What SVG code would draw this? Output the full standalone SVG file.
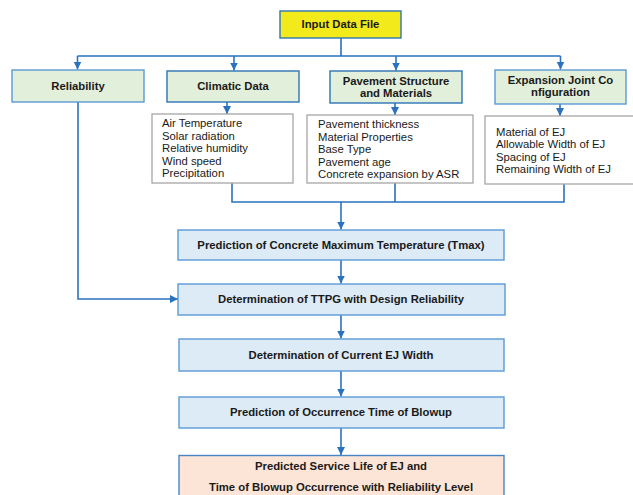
<svg xmlns="http://www.w3.org/2000/svg" width="633" height="495" viewBox="0 0 633 495">
  <style>
    .bg { fill: #ffffff; }
    .head { fill: #e2efda; stroke: #5b9bd5; stroke-width: 1.4; }
    .head-dk { fill: #e2efda; stroke: #2e75b6; stroke-width: 1.4; }
    .input { fill: #f2ea1a; stroke: #2e75b6; stroke-width: 1.4; }
    .list { fill: #ffffff; stroke: #a6a6a6; stroke-width: 1.3; }
    .step { fill: #ddebf7; stroke: #5b9bd5; stroke-width: 1.4; }
    .result { fill: #fce4d6; stroke: #4a86c5; stroke-width: 1.4; }
    .b { font-family: "Liberation Sans", Arial, sans-serif; font-size: 11.3px; font-weight: bold; fill: #1a1a1a; text-anchor: middle; }
    .t { font-family: "Liberation Sans", Arial, sans-serif; font-size: 11.3px; fill: #1a1a1a; }
    .conn { fill: none; stroke: #2a72bd; stroke-width: 1.6; }
  </style>
  <defs>
    <marker id="arrow" markerUnits="userSpaceOnUse" markerWidth="10" markerHeight="10" refX="8" refY="5" orient="auto">
      <path d="M0,1 L8,5 L0,9 z" fill="#2a72bd"/>
    </marker>
  </defs>

  <rect class="bg" x="0" y="0" width="633" height="495"/>

  <!-- connectors -->
  <g id="connectors">
    <path class="conn" d="M341,38 V56 M77.5,56 H560.5"/>
    <path class="conn" d="M77.5,56 V69.5" marker-end="url(#arrow)"/>
    <path class="conn" d="M234,56 V70.5" marker-end="url(#arrow)"/>
    <path class="conn" d="M396,56 V70.5" marker-end="url(#arrow)"/>
    <path class="conn" d="M560.5,56 V69.5" marker-end="url(#arrow)"/>
    <path class="conn" d="M78,102 V299 H178" marker-end="url(#arrow)"/>
    <path class="conn" d="M227,102 V114" marker-end="url(#arrow)"/>
    <path class="conn" d="M395,103 V115" marker-end="url(#arrow)"/>
    <path class="conn" d="M560,104 V116" marker-end="url(#arrow)"/>
    <path class="conn" d="M232,183 V202 H564 V184 M395,183 V202"/>
    <path class="conn" d="M341,202 V229.5" marker-end="url(#arrow)"/>
    <path class="conn" d="M341,260 V283.5" marker-end="url(#arrow)"/>
    <path class="conn" d="M341,315 V338.5" marker-end="url(#arrow)"/>
    <path class="conn" d="M341,371 V396.5" marker-end="url(#arrow)"/>
    <path class="conn" d="M341,428 V455" marker-end="url(#arrow)"/>
  </g>

  <g id="input">
    <rect class="input" x="280" y="11" width="121" height="27"/>
    <text class="b" x="340.5" y="28">Input Data File</text>
  </g>

  <g id="reliability">
    <rect class="head" x="12" y="70" width="132" height="32"/>
    <text class="b" x="78" y="90">Reliability</text>
  </g>

  <g id="climatic">
    <rect class="head-dk" x="167" y="71" width="132" height="31"/>
    <text class="b" x="233" y="90">Climatic Data</text>
  </g>

  <g id="pavement">
    <rect class="head-dk" x="330" y="71" width="132" height="32"/>
    <text class="b" x="396" y="85">Pavement Structure</text>
    <text class="b" x="396" y="97">and Materials</text>
  </g>

  <g id="expansion">
    <rect class="head" x="495" y="70" width="131" height="34"/>
    <text class="b" x="560.5" y="84">Expansion Joint Co</text>
    <text class="b" x="560.5" y="96">nfiguration</text>
  </g>

  <g id="climatic-list">
    <rect class="list" x="152" y="114" width="141" height="69"/>
    <text class="t" x="162" y="127">Air Temperature</text>
    <text class="t" x="162" y="139.5">Solar radiation</text>
    <text class="t" x="162" y="152">Relative humidity</text>
    <text class="t" x="162" y="164.5">Wind speed</text>
    <text class="t" x="162" y="177">Precipitation</text>
  </g>

  <g id="pavement-list">
    <rect class="list" x="307" y="115" width="166" height="68"/>
    <text class="t" x="318" y="128">Pavement thickness</text>
    <text class="t" x="318" y="140.5">Material Properties</text>
    <text class="t" x="318" y="153">Base Type</text>
    <text class="t" x="318" y="165.5">Pavement age</text>
    <text class="t" x="318" y="178">Concrete expansion by ASR</text>
  </g>

  <g id="expansion-list">
    <rect class="list" x="485" y="116" width="152" height="68"/>
    <text class="t" x="496" y="136">Material of EJ</text>
    <text class="t" x="496" y="148.3">Allowable Width of EJ</text>
    <text class="t" x="496" y="160.6">Spacing of EJ</text>
    <text class="t" x="496" y="173">Remaining Width of EJ</text>
  </g>

  <g id="tmax">
    <rect class="step" x="178" y="230" width="326" height="30"/>
    <text class="b" x="341" y="249">Prediction of Concrete Maximum Temperature (Tmax)</text>
  </g>

  <g id="ttpg">
    <rect class="step" x="178" y="284" width="327" height="31"/>
    <text class="b" x="341" y="303">Determination of TTPG with Design Reliability</text>
  </g>

  <g id="ej-width">
    <rect class="step" x="179" y="339" width="325" height="32"/>
    <text class="b" x="341" y="359">Determination of Current EJ Width</text>
  </g>

  <g id="blowup">
    <rect class="step" x="179" y="397" width="325" height="31"/>
    <text class="b" x="341" y="416">Prediction of Occurrence Time of Blowup</text>
  </g>

  <g id="service-life">
    <rect class="result" x="179" y="455.5" width="325" height="45"/>
    <text class="b" x="341" y="470">Predicted Service Life of EJ and</text>
    <text class="b" x="341" y="491">Time of Blowup Occurrence with Reliability Level</text>
  </g>
</svg>
